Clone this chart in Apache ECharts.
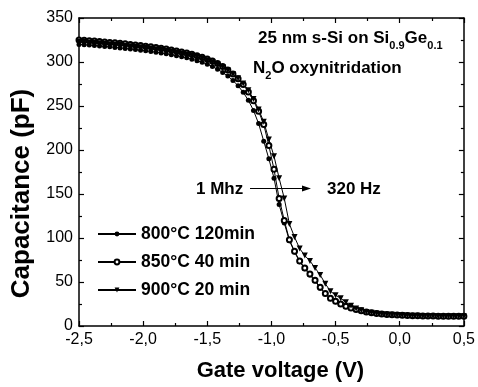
<!DOCTYPE html>
<html>
<head>
<meta charset="utf-8">
<script src="https://cdn.jsdelivr.net/npm/echarts@6/dist/echarts.min.js"></script>
<style>
  html, body { margin: 0; padding: 0; background: #fff; }
  #chart { width: 478px; height: 387px; }
</style>
</head>
<body>
<div id="chart"></div>
<script>
// gate voltage (V)
const voltage = [
  -2.50, -2.46, -2.42, -2.38, -2.34, -2.30, -2.26, -2.22, -2.18, -2.14,
  -2.10, -2.06, -2.02, -1.98, -1.94, -1.90, -1.86, -1.82, -1.78, -1.74,
  -1.70, -1.66, -1.62, -1.58, -1.54, -1.50, -1.46, -1.42, -1.38, -1.34,
  -1.30, -1.26, -1.22, -1.18, -1.14, -1.10, -1.06, -1.02, -0.98, -0.94,
  -0.90, -0.86, -0.82, -0.78, -0.74, -0.70, -0.66, -0.62, -0.58, -0.54,
  -0.50, -0.46, -0.42, -0.38, -0.34, -0.30, -0.26, -0.22, -0.18, -0.14,
  -0.10, -0.06, -0.02, 0.02, 0.06, 0.10, 0.14, 0.18, 0.22, 0.26,
  0.30, 0.34, 0.38, 0.42, 0.46, 0.50
];

// capacitance (pF)
const cap800 = [
  320, 319.6, 319.2, 318.7, 318.2, 317.7, 317.2, 316.6, 316, 315.4,
  314.8, 314.1, 313.4, 312.7, 311.9, 311.1, 310.2, 309.3, 308.3, 307.2,
  306, 304.7, 303.2, 301.5, 299.6, 297.4, 294.8, 291.8, 288.2, 284,
  279, 273, 265.5, 256.5, 245, 230, 210, 190, 168, 138,
  117, 97, 84, 73, 65, 58, 51, 43, 36.5, 31,
  27.5, 24.5, 22, 20, 18.4, 17, 15.8, 14.8, 14, 13.4,
  12.9, 12.5, 12.2, 12, 11.8, 11.6, 11.5, 11.4, 11.3, 11.2,
  11.2, 11.1, 11.1, 11, 11, 11
];
const cap850 = [
  325, 324.6, 324.2, 323.8, 323.3, 322.8, 322.3, 321.8, 321.2, 320.6,
  320, 319.4, 318.7, 318, 317.2, 316.4, 315.6, 314.7, 313.7, 312.6,
  311.5, 310.2, 308.8, 307.2, 305.4, 303.4, 301, 298.2, 295, 291,
  286.5, 281, 274.5, 266, 256, 244, 229, 205, 178, 145,
  120, 98, 85, 74, 66, 59, 52, 44, 37, 31.5,
  28, 25, 22.5, 20.5, 18.8, 17.3, 16, 15, 14.2, 13.6,
  13.1, 12.7, 12.4, 12.1, 11.9, 11.7, 11.6, 11.5, 11.4, 11.3,
  11.2, 11.2, 11.1, 11.1, 11, 11
];
const cap900 = [
  323, 322.6, 322.2, 321.8, 321.3, 320.8, 320.3, 319.8, 319.2, 318.6,
  318, 317.4, 316.7, 316, 315.3, 314.5, 313.7, 312.8, 311.8, 310.8,
  309.7, 308.5, 307.1, 305.6, 303.9, 302, 299.8, 297.2, 294.2, 290.6,
  286.5, 281.5, 275.5, 268, 258, 246, 232, 212, 193, 168,
  145, 116, 101, 88, 80, 74, 66, 58, 48, 39.5,
  35, 31.5, 27, 23, 20, 18, 16, 15, 14.2, 13.6,
  13.1, 12.7, 12.4, 12.1, 11.9, 11.7, 11.6, 11.5, 11.4, 11.3,
  11.2, 11.2, 11.1, 11.1, 11, 11
];

const seriesNames = ['800°C 120min', '850°C 40 min', '900°C 20 min'];
const xTicks = { min: -2.5, max: 0.5, interval: 0.5 };
const yTicks = { min: 0, max: 350, interval: 50 };

const FONT = '"Liberation Sans", Arial, Helvetica, sans-serif';

const pairs = (ys) => voltage.map((v, i) => [v, ys[i]]);

const chart = echarts.init(document.getElementById('chart'));

const baseAxis = {
    type: 'value',
    axisLine: { show: true, onZero: false, lineStyle: { color: '#000', width: 1.5 } },
    axisTick: { show: true, inside: true, length: 5, lineStyle: { color: '#000', width: 1.2 } },
    minorTick: { show: true, splitNumber: 2, length: 3, lineStyle: { color: '#000', width: 1.2 } },
    splitLine: { show: false },
    minorSplitLine: { show: false }
};

const option = {
    animation: false,
    backgroundColor: '#fff',
    grid: { left: 79, right: 11, top: 18, bottom: 54 },
    legend: {
        data: seriesNames,
        orient: 'vertical',
        left: 92,
        top: 220,
        itemWidth: 38,
        itemHeight: 6,
        itemGap: 10,
        textStyle: { color: '#000', fontSize: 17.5, fontWeight: 'bold', fontFamily: FONT }
    },
    xAxis: [
        Object.assign({}, baseAxis, xTicks, {
            position: 'bottom',
            name: 'Gate voltage (V)',
            nameLocation: 'middle',
            nameGap: 34,
            nameTextStyle: { color: '#000', fontSize: 22, fontWeight: 'bold', fontFamily: FONT, padding: [0, 0, 0, 18] },
            axisLabel: {
                color: '#000', fontSize: 16, fontFamily: FONT, margin: 6,
                formatter: (v) => v.toFixed(1).replace('.', ',')
            }
        }),
        Object.assign({}, baseAxis, xTicks, {
            position: 'top',
            axisLabel: { show: false }
        })
    ],
    yAxis: [
        Object.assign({}, baseAxis, yTicks, {
            position: 'left',
            name: 'Capacitance (pF)',
            nameLocation: 'middle',
            nameGap: 44,
            nameTextStyle: { color: '#000', fontSize: 26, fontWeight: 'bold', fontFamily: FONT, padding: [0, 43, 0, 0] },
            axisLabel: { color: '#000', fontSize: 16, fontFamily: FONT, margin: 6 }
        }),
        Object.assign({}, baseAxis, yTicks, {
            position: 'right',
            axisLabel: { show: false }
        })
    ],
    series: [
        {
            name: seriesNames[0],
            type: 'line',
            data: pairs(cap800),
            symbol: 'circle',
            symbolSize: 5,
            color: '#000',
            lineStyle: { color: '#000', width: 1 },
            itemStyle: { color: '#000' }
        },
        {
            name: seriesNames[1],
            type: 'line',
            data: pairs(cap850),
            symbol: 'emptyCircle',
            symbolSize: 5,
            color: '#000',
            lineStyle: { color: '#000', width: 1 },
            itemStyle: { color: '#000', borderWidth: 1 }
        },
        {
            name: seriesNames[2],
            type: 'line',
            data: pairs(cap900),
            symbol: 'triangle',
            symbolRotate: 180,
            symbolSize: 6,
            color: '#000',
            lineStyle: { color: '#000', width: 1 },
            itemStyle: { color: '#000' }
        }
    ],
    graphic: [
        {
            type: 'text', x: 258, y: 38,
            style: {
                text: '25 nm s-Si on Si{s|0.9}Ge{s|0.1}',
                fontSize: 17, fontWeight: 'bold', fontFamily: FONT, fill: '#000',
                lineHeight: 26, verticalAlign: 'middle', align: 'left',
                rich: { s: { fontSize: 11, fontWeight: 'bold', fontFamily: FONT, lineHeight: 12, verticalAlign: 'bottom' } }
            }
        },
        {
            type: 'text', x: 253, y: 68,
            style: {
                text: 'N{s|2}O oxynitridation',
                fontSize: 17, fontWeight: 'bold', fontFamily: FONT, fill: '#000',
                lineHeight: 26, verticalAlign: 'middle', align: 'left',
                rich: { s: { fontSize: 11, fontWeight: 'bold', fontFamily: FONT, lineHeight: 12, verticalAlign: 'bottom' } }
            }
        },
        {
            type: 'text', x: 196, y: 189,
            style: { text: '1 Mhz', fontSize: 17, fontWeight: 'bold', fontFamily: FONT, fill: '#000', verticalAlign: 'middle' }
        },
        {
            type: 'text', x: 327, y: 189,
            style: { text: '320 Hz', fontSize: 17, fontWeight: 'bold', fontFamily: FONT, fill: '#000', verticalAlign: 'middle' }
        },
        {
            type: 'line',
            shape: { x1: 250, y1: 188.5, x2: 303, y2: 188.5 },
            style: { stroke: '#000', lineWidth: 1.2 }
        },
        {
            type: 'polygon',
            shape: { points: [[311, 188.5], [302, 185.5], [302, 191.5]] },
            style: { fill: '#000' }
        }
    ]
};

chart.setOption(option);
</script>
</body>
</html>
